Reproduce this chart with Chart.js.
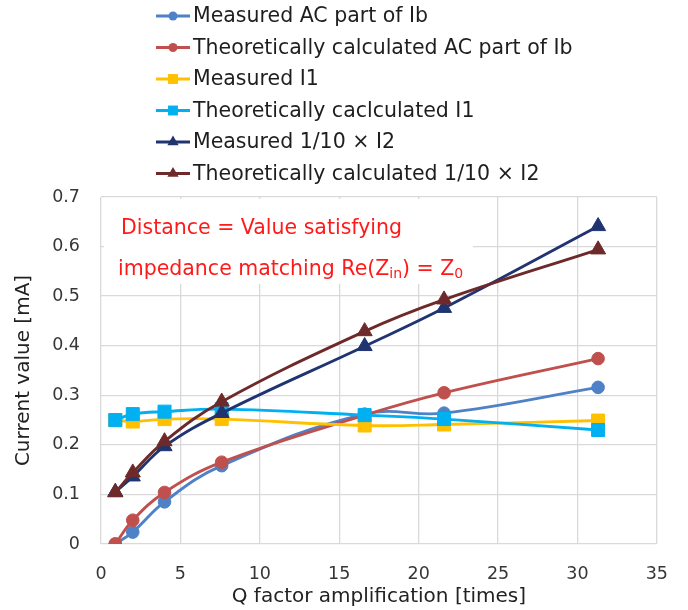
<!DOCTYPE html>
<html>
<head>
<meta charset="utf-8">
<script src="https://cdn.jsdelivr.net/npm/chart.js@4/dist/chart.umd.min.js"></script>
<style>
  html, body { margin: 0; padding: 0; background: #ffffff; }
  #wrap { width: 688px; height: 610px; position: relative; }
</style>
</head>
<body>
<div id="wrap"><canvas id="c" width="688" height="610"></canvas></div>
<script>
// ---- Data ----
const qFactor = [0.9, 2, 4, 7.6, 16.6, 21.6, 31.3];
const measuredIbAC = [0.0, 0.024, 0.085, 0.158, 0.262, 0.264, 0.316];
const theoreticalIbAC = [0.0, 0.048, 0.104, 0.165, 0.26, 0.305, 0.374];
const measuredI1 = [0.25, 0.247, 0.252, 0.252, 0.239, 0.241, 0.249];
const theoreticalI1 = [0.25, 0.262, 0.267, 0.272, 0.26, 0.252, 0.23];
const measuredI2tenth = [0.105, 0.136, 0.197, 0.264, 0.399, 0.476, 0.641];
const theoreticalI2tenth = [0.104, 0.144, 0.207, 0.287, 0.429, 0.493, 0.594];

const seriesLabels = [
  'Measured AC part of Ib',
  'Theoretically calculated AC part of Ib',
  'Measured I1',
  'Theoretically caclculated I1',
  'Measured 1/10 \u00d7 I2',
  'Theoretically calculated 1/10 \u00d7 I2'
];
const xTickValues = [0, 5, 10, 15, 20, 25, 30, 35];
const yTickValues = [0, 0.1, 0.2, 0.3, 0.4, 0.5, 0.6, 0.7];
const xAxisTitle = 'Q factor amplification [times]';
const yAxisTitle = 'Current value [mA]';
const noteLine1 = 'Distance = Value satisfying';
const noteLine2 = ['impedance matching Re(Z', 'in', ') = Z', '0'];

const seriesValues = [measuredIbAC, theoreticalIbAC, measuredI1, theoreticalI1, measuredI2tenth, theoreticalI2tenth];
const seriesColors = ['#4f81c7', '#c0504d', '#ffc000', '#00b0f0', '#1f3470', '#6e2a2a'];
const seriesMarkers = ['circle', 'circle', 'rect', 'rect', 'triangle', 'triangle'];
const markerRadius = { circle: 6.3, rect: 9.2, triangle: 8.7 };
const legendMarkerRadius = { circle: 4.5, rect: 7, triangle: 6.5 };

const FONT = '"DejaVu Sans", "Liberation Sans", Arial, sans-serif';

const datasets = seriesValues.map((vals, i) => ({
  label: seriesLabels[i],
  data: vals.map((v, k) => ({ x: qFactor[k], y: v })),
  borderColor: seriesColors[i],
  backgroundColor: seriesColors[i],
  pointBackgroundColor: seriesColors[i],
  pointBorderColor: seriesColors[i],
  pointBorderWidth: 1,
  pointStyle: seriesMarkers[i],
  pointRadius: markerRadius[seriesMarkers[i]],
  pointHoverRadius: markerRadius[seriesMarkers[i]],
  borderWidth: 2.9,
  tension: 0.4,
  fill: false,
  order: seriesValues.length - 1 - i
}));

function drawMarker(ctx, style, x, y, r) {
  ctx.beginPath();
  if (style === 'circle') {
    ctx.arc(x, y, r, 0, Math.PI * 2);
  } else if (style === 'rect') {
    const s = r * Math.SQRT1_2;
    ctx.rect(x - s, y - s, 2 * s, 2 * s);
  } else if (style === 'triangle') {
    const w = r * Math.sqrt(3) / 2;
    ctx.moveTo(x, y - r);
    ctx.lineTo(x + w, y + r / 2);
    ctx.lineTo(x - w, y + r / 2);
    ctx.closePath();
  }
  ctx.fill();
}

const legendPlugin = {
  id: 'stackLegend',
  afterDraw(chart) {
    const ctx = chart.ctx;
    ctx.save();
    chart.data.datasets.forEach((ds, i) => {
      const y = 16 + i * 31.5;
      ctx.strokeStyle = ds.borderColor;
      ctx.lineWidth = 2.8;
      ctx.beginPath();
      ctx.moveTo(156, y);
      ctx.lineTo(190, y);
      ctx.stroke();
      ctx.fillStyle = ds.backgroundColor;
      drawMarker(ctx, ds.pointStyle, 173, y, legendMarkerRadius[ds.pointStyle]);
      ctx.fillStyle = '#1e1e1e';
      ctx.font = '20.5px ' + FONT;
      ctx.textBaseline = 'middle';
      ctx.textAlign = 'left';
      ctx.fillText(ds.label, 193, y + 1);
    });
    ctx.restore();
  }
};

const notePlugin = {
  id: 'noteBox',
  beforeDatasetsDraw(chart) {
    const ctx = chart.ctx;
    ctx.save();
    ctx.fillStyle = '#ffffff';
    ctx.fillRect(104, 199, 369, 85);
    ctx.fillStyle = '#ff1a1a';
    ctx.textBaseline = 'alphabetic';
    ctx.textAlign = 'left';
    const big = '20.5px ' + FONT, small = '14px ' + FONT;
    ctx.font = big;
    ctx.fillText(noteLine1, 121, 234);
    let x = 118;
    const base = 275;
    noteLine2.forEach((part, k) => {
      const sub = (k % 2 === 1);
      ctx.font = sub ? small : big;
      ctx.fillText(part, x, sub ? base + 3 : base);
      x += ctx.measureText(part).width;
    });
    ctx.restore();
  }
};

new Chart(document.getElementById('c'), {
  type: 'line',
  data: { datasets },
  plugins: [notePlugin, legendPlugin],
  options: {
    responsive: false,
    animation: false,
    events: [],
    layout: { padding: { top: 197, right: 28, left: 0, bottom: 0 } },
    plugins: { legend: { display: false }, tooltip: { enabled: false }, title: { display: false } },
    scales: {
      x: {
        type: 'linear',
        min: 0, max: 35,
        afterBuildTicks: (s) => { s.ticks = xTickValues.map(v => ({ value: v })); },
        afterFit: (s) => { s.height = 66; },
        ticks: { color: '#363636', font: { family: FONT, size: 17.5 }, padding: 20, maxRotation: 0 },
        grid: { color: '#d9d9d9', lineWidth: 1.3, drawTicks: false },
        border: { display: false },
        title: { display: true, text: xAxisTitle, color: '#222222', font: { family: FONT, size: 20 }, padding: { top: 0, bottom: 1 } }
      },
      y: {
        type: 'linear',
        min: 0, max: 0.7,
        afterBuildTicks: (s) => { s.ticks = yTickValues.map(v => ({ value: v })); },
        afterFit: (s) => { s.width = 101; },
        ticks: { color: '#363636', font: { family: FONT, size: 17.5 }, padding: 21, callback: (v) => String(Math.round(v * 10) / 10) },
        grid: { color: '#d9d9d9', lineWidth: 1.3, drawTicks: false },
        border: { display: false },
        title: { display: true, text: yAxisTitle, color: '#222222', font: { family: FONT, size: 20 }, padding: { top: 12, bottom: 0 } }
      }
    }
  }
});
</script>
</body>
</html>
